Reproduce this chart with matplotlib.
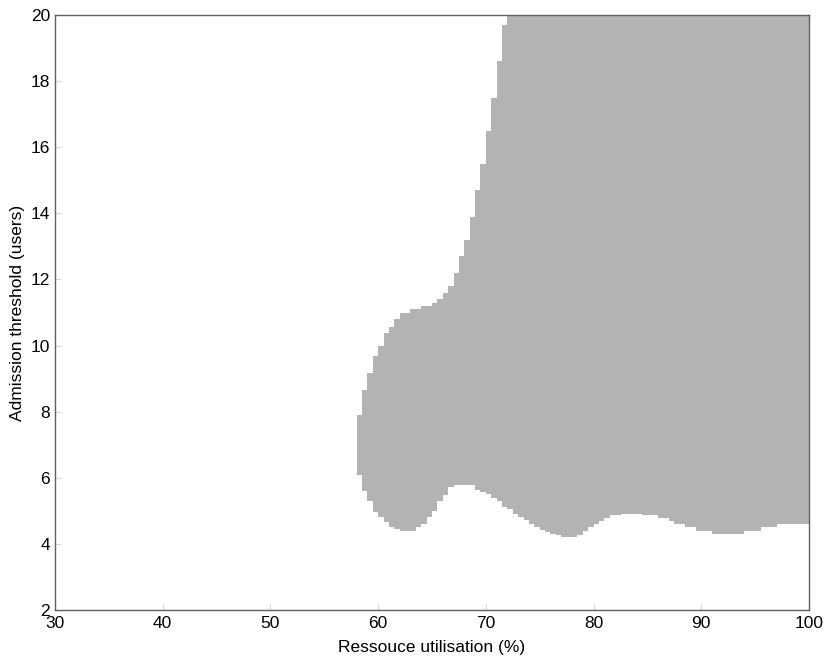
import numpy as np
import matplotlib.pyplot as plt

plt.rcParams['font.family'] = ['Liberation Sans', 'DejaVu Sans']

# columns of the admissible region (left edge of each 0.5% cell)
utilisation = np.arange(58, 100, 0.5)

# lower edge of the region in each column (users)
lower = [6.09, 5.61, 5.29, 4.98, 4.82, 4.66, 4.52, 4.45, 4.38, 4.38,
         4.38, 4.50, 4.60, 4.80, 5.00, 5.29, 5.49, 5.73, 5.77, 5.77,
         5.77, 5.77, 5.63, 5.58, 5.52, 5.39, 5.30, 5.13, 5.05, 4.91,
         4.80, 4.72, 4.60, 4.50, 4.42, 4.36, 4.30, 4.26, 4.20, 4.20,
         4.20, 4.28, 4.40, 4.50, 4.60, 4.70, 4.78, 4.86, 4.86, 4.90,
         4.90, 4.90, 4.90, 4.88, 4.88, 4.88, 4.78, 4.78, 4.68, 4.60,
         4.60, 4.50, 4.50, 4.40, 4.40, 4.40, 4.30, 4.30, 4.30, 4.30,
         4.30, 4.30, 4.40, 4.40, 4.40, 4.50, 4.50, 4.50, 4.60, 4.60,
         4.60, 4.60, 4.60, 4.60]

# upper edge of the region in each column (users)
upper = [7.89, 8.67, 9.17, 9.68, 9.98, 10.39, 10.57, 10.79, 11.0, 11.0,
         11.1, 11.1, 11.2, 11.2, 11.3, 11.4, 11.6, 11.8, 12.2, 12.7,
         13.2, 13.9, 14.7, 15.5, 16.5, 17.5, 18.6, 19.7, 20, 20,
         20, 20, 20, 20, 20, 20, 20, 20, 20, 20,
         20, 20, 20, 20, 20, 20, 20, 20, 20, 20,
         20, 20, 20, 20, 20, 20, 20, 20, 20, 20,
         20, 20, 20, 20, 20, 20, 20, 20, 20, 20,
         20, 20, 20, 20, 20, 20, 20, 20, 20, 20,
         20, 20, 20, 20]

xticks = [30, 40, 50, 60, 70, 80, 90, 100]
yticks = [2, 4, 6, 8, 10, 12, 14, 16, 18, 20]

lower = np.array(lower)
upper = np.array(upper)

fig = plt.figure(figsize=(8.3, 6.58), dpi=100)
ax = fig.add_axes([0.0663, 0.0729, 0.9084, 0.9043])

ax.bar(utilisation, upper - lower, bottom=lower, width=0.5, align='edge',
       color='#b3b3b3', linewidth=0)

ax.set_xlim(30, 100)
ax.set_ylim(2, 20)
ax.set_xticks(xticks)
ax.set_yticks(yticks)
ax.tick_params(direction='in', length=4, color='#d8d8d8', labelsize=12.5,
               labelcolor='black', top=False, right=False)
ax.tick_params(axis='x', pad=4)
for s in ax.spines.values():
    s.set_color('#606060')
    s.set_linewidth(1.0)

ax.set_xlabel('Ressouce utilisation (%)', fontsize=12.5, labelpad=7)
ax.set_ylabel('Admission threshold (users)', fontsize=12.5, labelpad=4)

fig.savefig('out.png', dpi=100)
